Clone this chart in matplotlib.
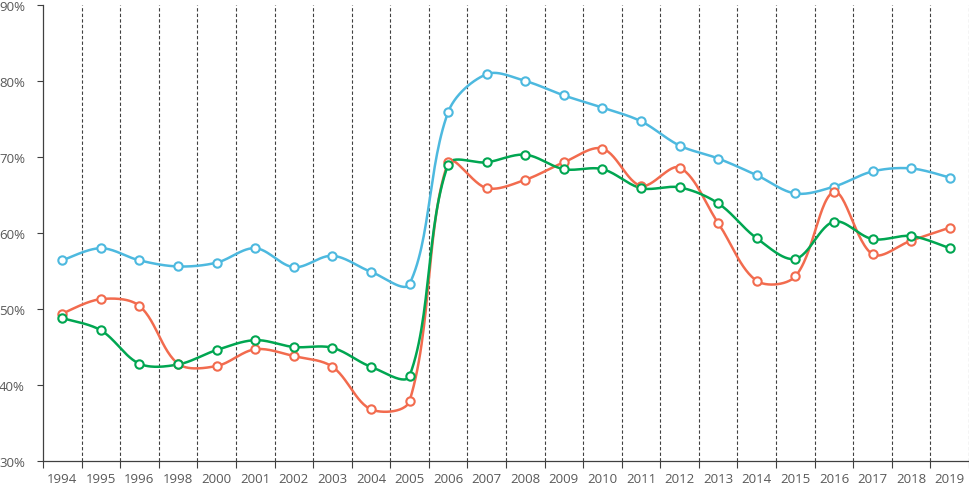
import numpy as np
import matplotlib
matplotlib.use("Agg")
import matplotlib.pyplot as plt
from matplotlib.ticker import FixedLocator, PercentFormatter

years = ["1994", "1995", "1996", "1998", "2000", "2001", "2002", "2003", "2004",
         "2005", "2006", "2007", "2008", "2009", "2010", "2011", "2012", "2013",
         "2014", "2015", "2016", "2017", "2018", "2019"]

blue_vals = [56.4, 58.0, 56.4, 55.6, 56.1, 58.0, 55.5, 57.0, 54.9, 53.3, 75.9, 80.9,
             80.0, 78.1, 76.5, 74.7, 71.5, 69.8, 67.6, 65.2, 66.1, 68.1, 68.5, 67.3]
red_vals = [49.4, 51.3, 50.4, 42.8, 42.5, 44.7, 43.8, 42.4, 36.8, 37.9, 69.3, 65.9,
            67.0, 69.3, 71.1, 66.2, 68.6, 61.3, 53.7, 54.3, 65.4, 57.2, 59.0, 60.7]
green_vals = [48.8, 47.2, 42.8, 42.7, 44.6, 45.9, 45.0, 44.9, 42.4, 41.2, 69.0, 69.3,
              70.3, 68.4, 68.4, 65.9, 66.0, 63.9, 59.3, 56.6, 61.5, 59.2, 59.6, 58.0]

series = [(blue_vals, "#4DB9DF"), (red_vals, "#F26B4E"), (green_vals, "#00A651")]

# pixel scale of the plot, used so the smoothing behaves like excel's
PX_X = 38.6
PX_Y = 7.6


def smooth(x, y, n=30):
    # bezier segments, tangents weighted by neighbouring segment lengths
    x = np.asarray(x, float)
    y = np.asarray(y, float)
    px = np.concatenate([[x[0]], x, [x[-1]]])
    py = np.concatenate([[y[0]], y, [y[-1]]])
    P = np.column_stack([px, py])
    S = np.array([PX_X, PX_Y])
    t = np.linspace(0, 1, n)
    xs, ys = [], []
    for i in range(1, len(P) - 2):
        p0, p1, p2, p3 = P[i - 1], P[i], P[i + 1], P[i + 2]
        d01 = np.hypot(*((p1 - p0) * S))
        d12 = np.hypot(*((p2 - p1) * S))
        d23 = np.hypot(*((p3 - p2) * S))
        f1 = d12 / (d01 + d12) / 3 if d01 + d12 > 0 else 0
        f2 = d12 / (d12 + d23) / 3 if d12 + d23 > 0 else 0
        if d01 == 0:
            f1 = 1 / 6
        if d23 == 0:
            f2 = 1 / 6
        c1 = p1 + (p2 - p0) * f1
        c2 = p2 - (p3 - p1) * f2
        b = ((1 - t) ** 3)[:, None] * p1 + (3 * (1 - t) ** 2 * t)[:, None] * c1 \
            + (3 * (1 - t) * t ** 2)[:, None] * c2 + (t ** 3)[:, None] * p2
        xs.append(b[:, 0])
        ys.append(b[:, 1])
    return np.concatenate(xs), np.concatenate(ys)


plt.rcParams["font.family"] = ["Open Sans", "DejaVu Sans"]

fig = plt.figure(figsize=(9.7, 4.89), dpi=100)
ax = fig.add_axes([43 / 970, 27 / 489, 926 / 970, 456 / 489])

xpos = np.arange(len(years))
for vals, col in series:
    sx, sy = smooth(xpos, vals)
    ax.plot(sx, sy, color=col, lw=1.8, zorder=3, solid_capstyle="round")
    ax.plot(xpos, vals, ls="none", marker="o", ms=6, mfc="white", mec=col,
            mew=1.5, zorder=4)

ax.set_xlim(-0.5, len(years) - 0.5)
ax.set_ylim(30, 90)
ax.set_yticks(np.arange(30, 91, 10))
ax.yaxis.set_major_formatter(PercentFormatter(decimals=0))

ax.set_xticks(xpos)
ax.set_xticklabels(years)
bounds = np.arange(len(years) + 1) - 0.5
ax.xaxis.set_minor_locator(FixedLocator(bounds))
ax.tick_params(axis="x", which="major", length=0, pad=8, labelsize=9.5, labelcolor="#595959")
ax.tick_params(axis="x", which="minor", length=5, width=0.8, color="#404040")
ax.tick_params(axis="y", length=4, width=0.8, color="#404040", pad=9, labelsize=9.5,
               labelcolor="#595959")

for b in bounds[1:]:
    ax.axvline(b, color="#404040", lw=0.8, ls=(0, (3, 2)), zorder=1)

for s in ["top", "right"]:
    ax.spines[s].set_visible(False)
for s in ["left", "bottom"]:
    ax.spines[s].set_color("#404040")
    ax.spines[s].set_linewidth(0.9)

fig.savefig("out.png", dpi=100)
